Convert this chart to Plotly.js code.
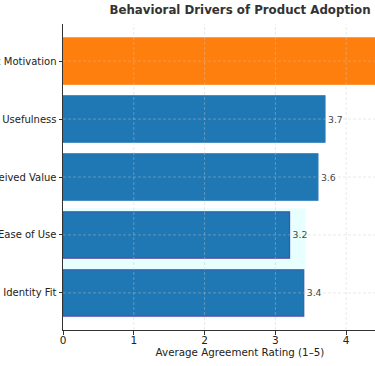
<!DOCTYPE html>
<html>
<head>
<meta charset="utf-8">
<script src="https://cdn.plot.ly/plotly-3.0.1.min.js"></script>
<style>html,body{margin:0;padding:0;background:#fff;overflow:hidden;width:375px;height:366px;}#chart{width:430px;height:366px;}</style>
</head>
<body>
<div id="chart"></div>
<script>
// Data (top to bottom)
const categories = ["Intrinsic Motivation", "Functional Usefulness", "Perceived Value", "Ease of Use", "Identity Fit"];
const ratings = [4.5, 3.7, 3.6, 3.2, 3.4];
const barColors = ["#ff7f0e", "#1f77b4", "#1f77b4", "#1f77b4", "#1f77b4"];
const edgeColors = ["#ff7f0e", "#1f77b4", "#1f77b4", "#5a4aa8", "#5a4aa8"];
const xTicks = [0, 1, 2, 3, 4, 5];
const xTickLabels = ["0", "1", "2", "3", "4", "5"];
const highlighted = ["Ease of Use", "Identity Fit"];

const font = "DejaVu Sans, Liberation Sans, sans-serif";

const trace = {
  type: "bar",
  orientation: "h",
  y: categories,
  x: ratings,
  width: 0.8,
  marker: {color: barColors, line: {color: edgeColors, width: 1.2}},
  text: ratings.map(v => v.toFixed(1)),
  textposition: "outside",
  cliponaxis: false,
  textfont: {family: font, size: 9.3, color: "#444"},
  hoverinfo: "skip"
};

// gridlines drawn above bars (as in reference)
const gridShapes = [];
xTicks.slice(1).forEach(t => gridShapes.push({
  type: "line", xref: "x", yref: "paper", x0: t, x1: t, y0: 0, y1: 1,
  line: {color: "rgba(200,200,200,0.4)", width: 1, dash: "3px,2px"}, layer: "above"
}));
categories.forEach((c, i) => gridShapes.push({
  type: "line", xref: "paper", yref: "y", x0: 0, x1: 1, y0: i, y1: i,
  line: {color: "rgba(200,200,200,0.4)", width: 1, dash: "3px,2px"}, layer: "above"
}));
// faint highlight band behind the two outlined bars
const hiIdx = highlighted.map(h => categories.indexOf(h));
const hiMax = Math.max(...hiIdx.map(i => ratings[i]));
gridShapes.push({
  type: "rect", xref: "x", yref: "y",
  x0: 0, x1: hiMax + 0.02, y0: Math.min(...hiIdx) - 0.46, y1: Math.max(...hiIdx) + 0.44,
  fillcolor: "rgba(228,255,255,0.9)", line: {width: 0}, layer: "below"
});

const layout = {
  width: 430, height: 366,
  margin: {l: 63, r: 13, t: 24, b: 36, pad: 0},
  paper_bgcolor: "#fff", plot_bgcolor: "#fff",
  showlegend: false,
  bargap: 0.2,
  title: {
    text: "<b>Behavioral Drivers of Product Adoption</b>",
    font: {family: font, size: 11.8, color: "#333"},
    xref: "paper", x: 0.5, xanchor: "center", y: 0.985, yanchor: "top"
  },
  xaxis: {
    range: [0, 5],
    tickvals: xTicks, ticktext: xTickLabels,
    showgrid: false, zeroline: false,
    showline: true, linecolor: "#333", linewidth: 1,
    ticks: "outside", ticklen: 3.5, tickcolor: "#333",
    ticklabelstandoff: -3,
    tickfont: {family: font, size: 10.5, color: "#222"},
    title: {text: "Average Agreement Rating (1–5)", font: {family: font, size: 10.3, color: "#222"}, standoff: 1}
  },
  yaxis: {
    type: "category",
    range: [4.64, -0.64],
    showgrid: false, zeroline: false,
    showline: true, linecolor: "#333", linewidth: 1,
    ticks: "outside", ticklen: 3.5, tickcolor: "#333",
    ticklabelstandoff: 0,
    tickfont: {family: font, size: 10, color: "#222"}
  },
  shapes: gridShapes
};

Plotly.newPlot("chart", [trace], layout, {displayModeBar: false, staticPlot: true});
</script>
</body>
</html>
